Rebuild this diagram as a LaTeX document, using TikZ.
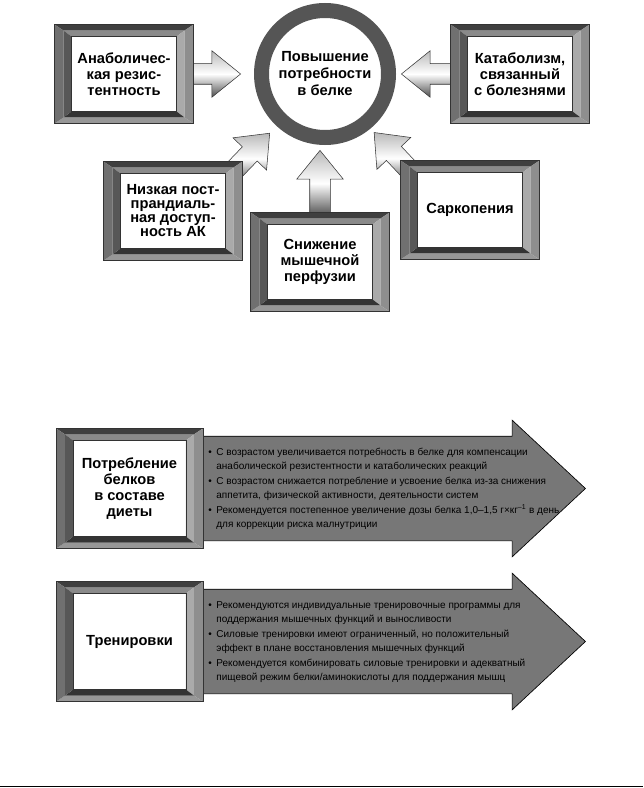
\documentclass[tikz,border=0pt]{standalone}
\usepackage{fontspec}
\setmainfont{Liberation Sans}
\usetikzlibrary{shapes.arrows}
\definecolor{frtop}{HTML}{3F3F3F}
\definecolor{frleft}{HTML}{707070}
\definecolor{frright}{HTML}{8E8E8E}
\definecolor{frbottom}{HTML}{979797}
\definecolor{intop}{HTML}{8A8A8A}
\definecolor{inleft}{HTML}{575757}
\definecolor{inright}{HTML}{AAAAAA}
\definecolor{inbottom}{HTML}{343434}
\definecolor{ringgray}{HTML}{555555}
\definecolor{arrowgray}{HTML}{777777}
\pgfdeclarelayer{back}
\pgfsetlayers{back,main}
\tikzset{
  framed/.style={rectangle, draw=black!80, line width=0.4pt, fill=white, inner sep=0pt, align=center,
    font=\bfseries\fontsize{11}{12}\selectfont,
    path picture={
      \path (path picture bounding box.north west) coordinate (fa)
            (path picture bounding box.north east) coordinate (fb)
            (path picture bounding box.south east) coordinate (fc)
            (path picture bounding box.south west) coordinate (fd);
      \path ([shift={(6.75pt,-4.5pt)}]fa) coordinate (fa1)
            ([shift={(-6.75pt,-4.5pt)}]fb) coordinate (fb1)
            ([shift={(-6.75pt,4.5pt)}]fc) coordinate (fc1)
            ([shift={(6.75pt,4.5pt)}]fd) coordinate (fd1)
            ([shift={(12.75pt,-9pt)}]fa) coordinate (fa2)
            ([shift={(-12.75pt,-9pt)}]fb) coordinate (fb2)
            ([shift={(-12.75pt,9pt)}]fc) coordinate (fc2)
            ([shift={(12.75pt,9pt)}]fd) coordinate (fd2);
      \fill[frtop] (fa) -- (fb) -- (fb1) -- (fa1) -- cycle;
      \fill[frright] (fb) -- (fc) -- (fc1) -- (fb1) -- cycle;
      \fill[frbottom] (fc) -- (fd) -- (fd1) -- (fc1) -- cycle;
      \fill[frleft] (fd) -- (fa) -- (fa1) -- (fd1) -- cycle;
      \fill[intop] (fa1) -- (fb1) -- (fb2) -- (fa2) -- cycle;
      \fill[inright] (fb1) -- (fc1) -- (fc2) -- (fb2) -- cycle;
      \fill[inbottom] (fc1) -- (fd1) -- (fd2) -- (fc2) -- cycle;
      \fill[inleft] (fd1) -- (fa1) -- (fa2) -- (fd2) -- cycle;
      \draw[black!80, line width=0.4pt] (fa2) rectangle (fc2);
    }},
  smallbox/.style={framed, minimum width=104pt, minimum height=74pt},
  bigbox/.style={framed, minimum width=110pt, minimum height=90pt},
  ring/.style={circle, draw=ringgray, line width=11.25pt, fill=white, inner sep=0pt, outer sep=9.375pt,
    minimum size=95.25pt, align=center, font=\bfseries\fontsize{11}{12.75}\selectfont},
  fatarrow/.style={single arrow, draw=black!80, line width=0.4pt, inner xsep=0pt, inner ysep=7.5pt,
    single arrow head extend=9.75pt, single arrow tip angle=78, minimum width=34.5pt,
    top color=gray!55, bottom color=black!70, middle color=white,
    sloped, allow upside down, anchor=tip, pos=1},
  bigarrow/.style={single arrow, draw=black, line width=0.5pt, fill=arrowgray, inner xsep=0pt, inner ysep=39pt,
    single arrow head extend=12pt, single arrow tip angle=86, minimum width=102pt, minimum height=286.5pt, anchor=tail},
  bullets/.style={anchor=west, inner sep=0pt, align=left, font=\fontsize{7.5}{10.5}\selectfont}
}
\begin{document}
\begin{tikzpicture}[x=0.75pt,y=-0.75pt]
\useasboundingbox (0,0) rectangle (643,788);
\node (ring) [ring] at (325,74) {Повышение\\потребности\\в белке};
\node (anab) [smallbox] at (124,74) {Анаболичес-\\кая резис-\\тентность};
\node (cata) [smallbox] at (520,74) {Катаболизм,\\связанный\\с болезнями};
\node (niz) [smallbox, font=\bfseries\fontsize{11}{10.5}\selectfont] at (173,211) {Низкая пост-\\прандиаль-\\ная доступ-\\ность АК};
\node (snizh) [smallbox] at (320,262) {Снижение\\мышечной\\перфузии};
\node (sark) [smallbox] at (470,210) {Саркопения};
\begin{pgfonlayer}{back}
\path (anab) -- ([xshift=-6pt]ring.west) node (arAnab) [fatarrow, minimum height=40.5pt] {};
\path (cata) -- (ring.east) node (arCata) [fatarrow, minimum height=41pt] {};
\path (snizh) -- (snizh |- ring.south) node (arSnizh) [fatarrow, minimum height=49.5pt] {};
\path (niz.north east) -- ([shift={(-2.4pt,-2.5pt)}]ring.227) node (arNiz) [fatarrow, minimum height=46pt] {};
\path (sark.north west) -- (ring.310) node (arSark) [fatarrow, minimum height=46pt] {};
\end{pgfonlayer}

\node (potr) [bigbox] at (129.5,488.5) {Потребление\\белков\\в составе\\диеты};
\node (tren) [bigbox] at (129.5,641.5) {Тренировки};
\begin{pgfonlayer}{back}
\node (arPotr) [bigarrow] at (potr.east) {};
\node (arTren) [bigarrow] at (tren.east) {};
\end{pgfonlayer}
\node (txtPotr) [bullets] at ([xshift=3.75pt]potr.east) {\begin{tabular}{@{}l@{\hspace{3.4pt}}l@{}}
\textbullet & С возрастом увеличивается потребность в белке для компенсации\\
 & анаболической резистентности и катаболических реакций\\[0.8pt]
\textbullet & С возрастом снижается потребление и усвоение белка из-за снижения\\
 & аппетита, физической активности, деятельности систем\\[0.8pt]
\textbullet & Рекомендуется постепенное увеличение дозы белка 1,0--1,5 г×кг\textsuperscript{--1} в день\\
 & для коррекции риска малнутриции
\end{tabular}};
\node (txtTren) [bullets] at ([xshift=3.75pt]tren.east) {\begin{tabular}{@{}l@{\hspace{3.4pt}}l@{}}
\textbullet & Рекомендуются индивидуальные тренировочные программы для\\
 & поддержания мышечных функций и выносливости\\[0.8pt]
\textbullet & Силовые тренировки имеют ограниченный, но положительный\\
 & эффект в плане восстановления мышечных функций\\[0.8pt]
\textbullet & Рекомендуется комбинировать силовые тренировки и адекватный\\
 & пищевой режим белки/аминокислоты для поддержания мышц
\end{tabular}};

\draw [line width=1.1pt] (0,786.5) -- (643,786.5);
\end{tikzpicture}
\end{document}
